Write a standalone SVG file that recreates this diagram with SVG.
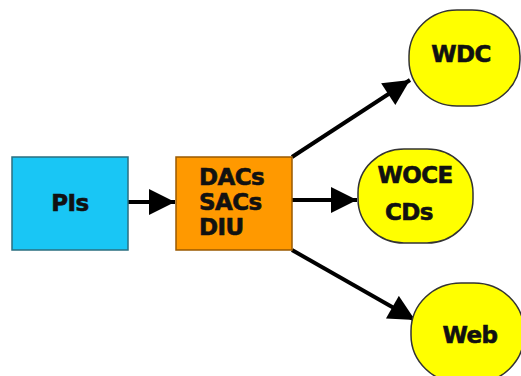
<svg xmlns="http://www.w3.org/2000/svg" width="521" height="376" viewBox="0 0 521 376">
<style>
.lbl{font-family:"DejaVu Sans","Liberation Sans",sans-serif;font-weight:bold;font-size:23px;letter-spacing:-0.6px;fill:#111;stroke:#111;stroke-width:0.6}
.bub{fill:#ffff00;stroke:#333;stroke-width:1.5}
.con{stroke:#000;stroke-width:4;fill:none}
</style>
<defs>
<marker id="ah" viewBox="0 0 10 10" refX="10" refY="5" markerWidth="7" markerHeight="6.5" markerUnits="strokeWidth" orient="auto">
<path d="M0,0 L10,5 L0,10 z" fill="#000"/>
</marker>
</defs>
<rect width="521" height="376" fill="#fff"/>
<g id="connectors">
<line class="con" x1="128" y1="202" x2="175" y2="202" marker-end="url(#ah)"/>
<line class="con" x1="292" y1="157" x2="410" y2="80" marker-end="url(#ah)"/>
<line class="con" x1="292" y1="200" x2="357" y2="200" marker-end="url(#ah)"/>
<line class="con" x1="292" y1="250" x2="415" y2="320" marker-end="url(#ah)"/>
</g>
<g id="pis">
<rect x="12" y="157" width="116" height="93" fill="#19c6f5" stroke="#2a6f80" stroke-width="1.5"/>
<text class="lbl" x="70" y="211" text-anchor="middle">PIs</text>
</g>
<g id="dacs">
<rect x="176" y="157" width="116" height="93" fill="#ff9900" stroke="#9a5a00" stroke-width="1.5"/>
<text class="lbl" x="199" y="185">DACs</text>
<text class="lbl" x="199" y="210">SACs</text>
<text class="lbl" x="199" y="235">DIU</text>
</g>
<g id="wdc">
<rect class="bub" x="409" y="10" width="111" height="96" rx="48" ry="46"/>
<text class="lbl" x="461" y="62" text-anchor="middle">WDC</text>
</g>
<g id="woce">
<rect class="bub" x="358" y="149" width="115" height="94" rx="46" ry="44"/>
<text class="lbl" x="415" y="183" text-anchor="middle">WOCE</text>
<text class="lbl" x="409" y="220" text-anchor="middle">CDs</text>
</g>
<g id="web">
<rect class="bub" x="411" y="283" width="113" height="100" rx="50" ry="48"/>
<text class="lbl" x="470" y="343" text-anchor="middle">Web</text>
</g>
</svg>
